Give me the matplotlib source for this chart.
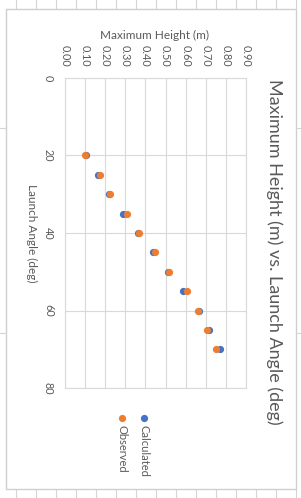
import matplotlib
matplotlib.use("Agg")
import matplotlib.pyplot as plt
from matplotlib.lines import Line2D

# ---- data ----
angles = [20, 25, 30, 35, 40, 45, 50, 55, 60, 65, 70]
calculated = [0.103, 0.163, 0.221, 0.290, 0.362, 0.437, 0.513, 0.588, 0.665, 0.718, 0.773]
observed = [0.097, 0.174, 0.222, 0.310, 0.368, 0.448, 0.517, 0.608, 0.660, 0.708, 0.750]
height_ticks = [0.0, 0.1, 0.2, 0.3, 0.4, 0.5, 0.6, 0.7, 0.8, 0.9]
angle_ticks = [0, 20, 40, 60, 80]
series_names = ["Calculated", "Observed"]
title = "Maximum Height (m) vs. Launch Angle (deg)"
height_label = "Maximum Height (m)"
angle_label = "Launch Angle (deg)"

plt.rcParams['font.family'] = ['Lato', 'DejaVu Sans']
TXT = '#595959'
GRID = '#d9d9d9'
BLUE = '#4472C4'
ORANGE = '#ED7D31'

W, H = 301, 498
fig = plt.figure(figsize=(W / 100, H / 100), dpi=100)
fig.patch.set_facecolor('white')

def fx(px):
    return px / W

def fy(py):
    return 1 - py / H

# spreadsheet background lines
cell = '#d4d4d4'
for x in range(16, W, 20):
    fig.add_artist(Line2D([fx(x), fx(x)], [fy(0), fy(8)], color=cell, lw=0.8))
    fig.add_artist(Line2D([fx(x), fx(x)], [fy(490), fy(498)], color=cell, lw=0.8))
for y in [128, 333]:
    fig.add_artist(Line2D([fx(0), fx(6)], [fy(y), fy(y)], color=cell, lw=0.8))
    fig.add_artist(Line2D([fx(296), fx(301)], [fy(y), fy(y)], color=cell, lw=0.8))
# chart border
bx0, by0, bx1, by1 = 6, 9, 296, 489
fig.add_artist(plt.Rectangle((fx(bx0), fy(by1)), fx(bx1) - fx(bx0), fy(by0) - fy(by1),
                             fill=True, facecolor='white', edgecolor='#cfcfcf', lw=1.0, zorder=0))

# plot area
L, R, T, B = 65, 246, 78, 388
ax = fig.add_axes([fx(L), fy(B), fx(R) - fx(L), fy(T) - fy(B)])
ax.set_facecolor('none')
ax.set_xlim(0, 0.9)
ax.set_ylim(80, 0)
ax.set_xticks(height_ticks)
ax.set_xticklabels([f"{v:.2f}" for v in height_ticks])
ax.set_yticks(angle_ticks)
ax.set_yticklabels([str(v) for v in angle_ticks])
ax.xaxis.tick_top()
ax.tick_params(axis='x', length=0, pad=8, labelsize=7.8, labelcolor=TXT, labelrotation=-90)
ax.tick_params(axis='y', length=0, pad=8, labelsize=7.8, labelcolor=TXT, labelrotation=-90)
for lab in ax.get_yticklabels():
    lab.set_va('center')
ax.grid(True, color=GRID, lw=0.8)
for s in ax.spines.values():
    s.set_color(GRID)
    s.set_linewidth(0.8)

ax.plot(calculated, angles, 'o', color=BLUE, ms=5.2, mec='none', zorder=3)
ax.plot(observed, angles, 'o', color=ORANGE, ms=5.2, mec='none', zorder=4)

# axis titles
fig.text(fx(155), fy(35), height_label, ha='center', va='center', fontsize=8.5, color=TXT)
fig.text(fx(32), fy(233), angle_label, ha='center', va='center', fontsize=8.5, color=TXT, rotation=-90)
fig.text(fx(274), fy(252), title, ha='center', va='center', fontsize=13, color=TXT, rotation=-90)

# legend
for px, col, name in [(144, BLUE, series_names[0]), (122, ORANGE, series_names[1])]:
    fig.add_artist(Line2D([fx(px)], [fy(418)], marker='o', color=col, ms=5.2, mec='none', ls='none'))
    fig.text(fx(px), fy(425), name, ha='center', va='top', fontsize=8, color=TXT, rotation=-90)

fig.savefig('out.png', dpi=100)
